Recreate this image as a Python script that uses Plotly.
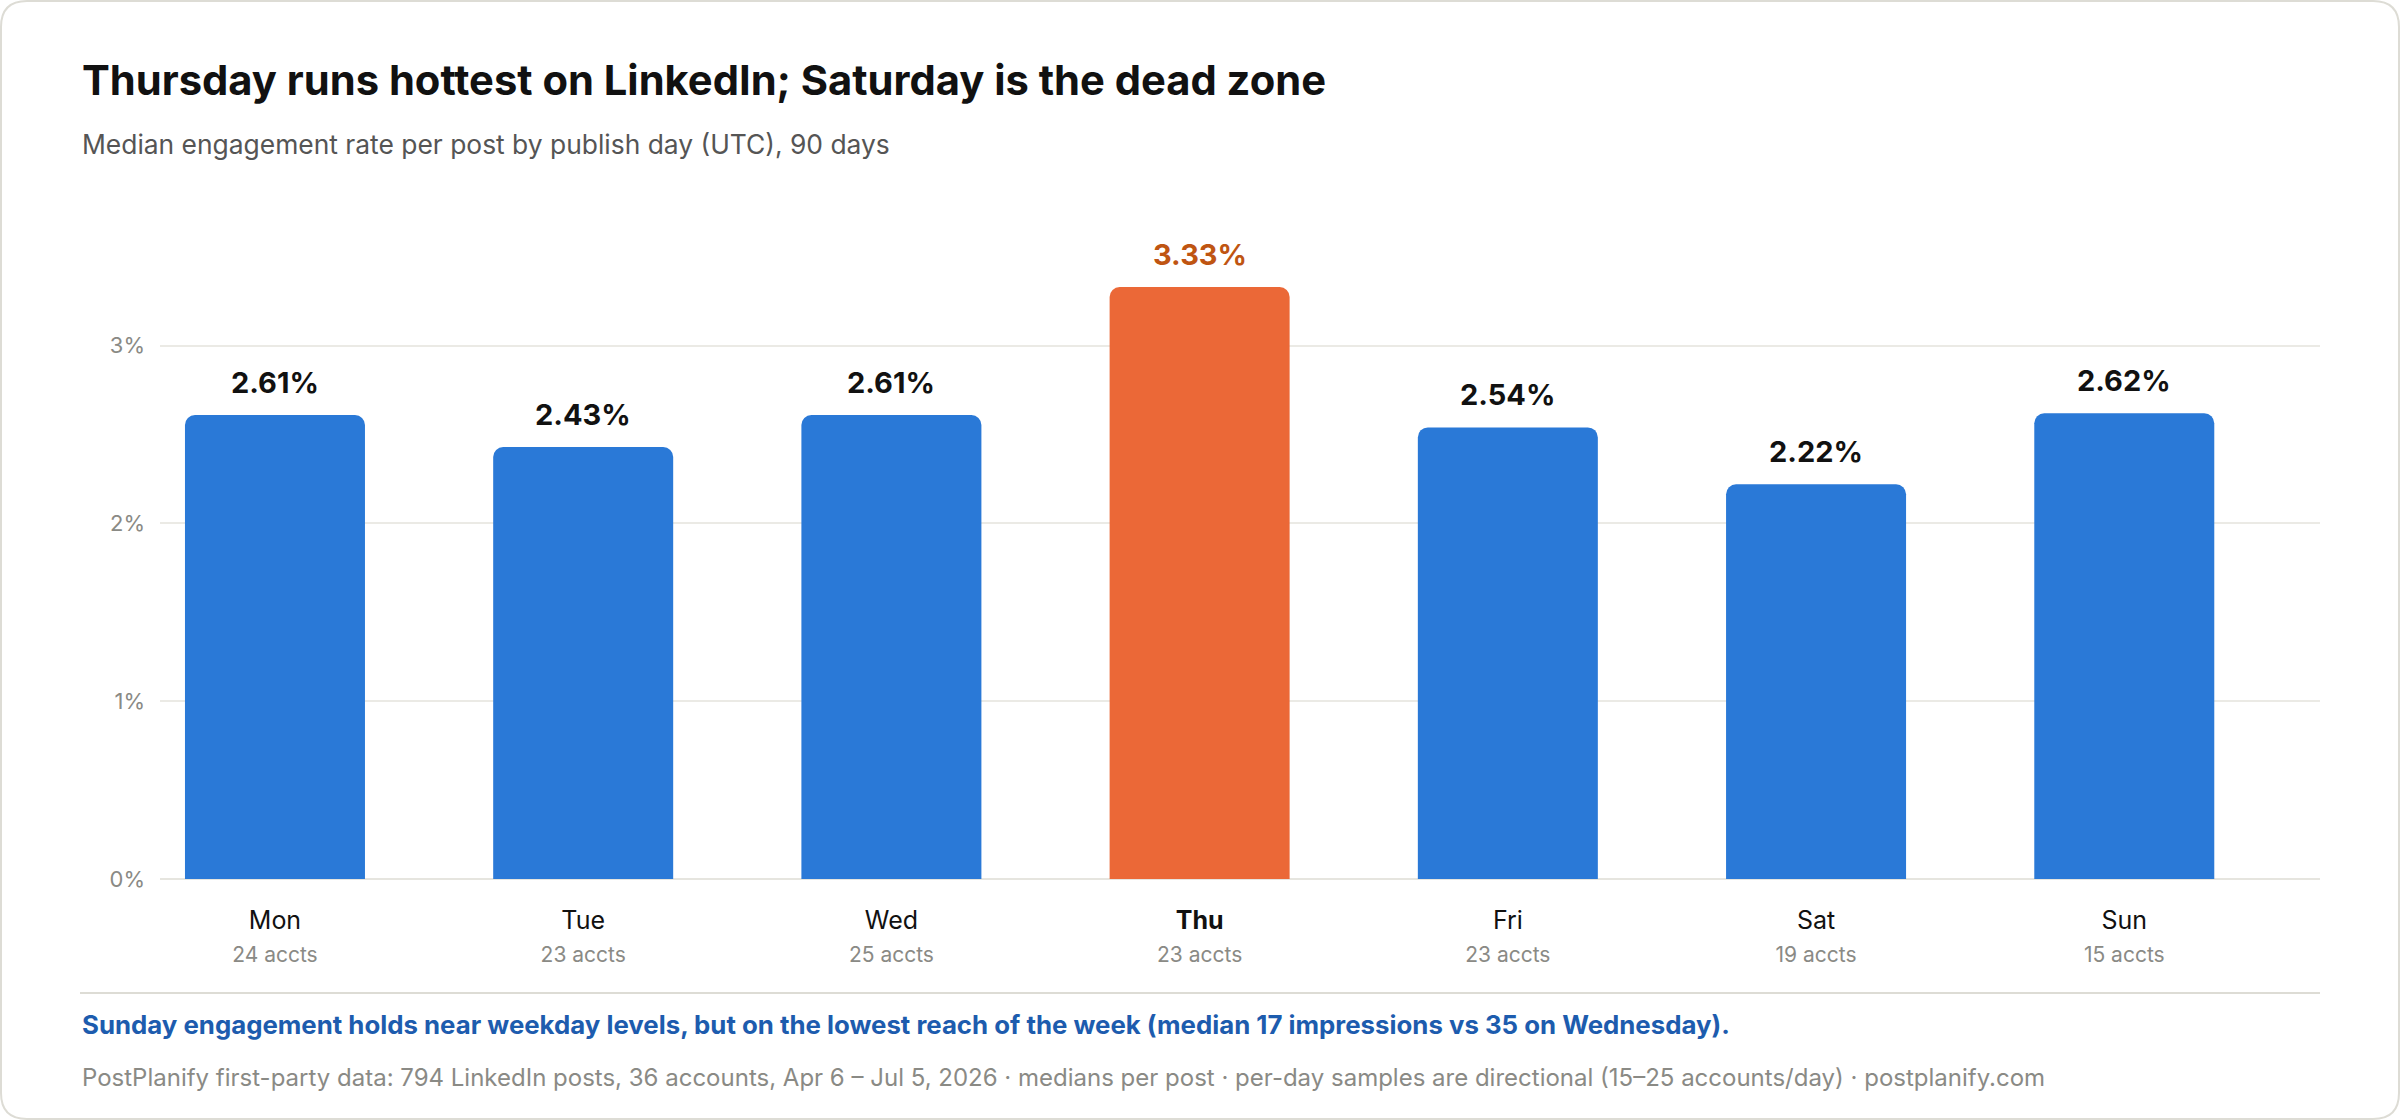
import plotly.graph_objects as go

days = ["Mon", "Tue", "Wed", "Thu", "Fri", "Sat", "Sun"]
engagement = [2.61, 2.43, 2.61, 3.33, 2.54, 2.22, 2.62]
accounts = [24, 23, 25, 23, 23, 19, 15]
highlight_day = "Thu"
y_ticks = [0, 1, 2, 3]

W, H = 2400, 1120
L, R, T, B = 160, 80, 239, 241
PW, PH = W - L - R, H - T - B

def px(x):
    return (x - L) / PW

def py(y):
    return (H - B - y) / PH

FONT = "Inter, 'Noto Sans', 'Liberation Sans', sans-serif"
BLUE = "#2a79d7"
ORANGE = "#eb6837"
ORANGE_TXT = "#bf5512"
GRAY = "#8a8a85"
BORDER = "#dddcd5"

colors = [ORANGE if d == highlight_day else BLUE for d in days]
xs = list(range(len(days)))

ticktext = []
for d, a in zip(days, accounts):
    name = f"<b>{d}</b>" if d == highlight_day else d
    ticktext.append(f"{name}<br><span style='font-size:21px;color:{GRAY}'>{a} accts</span>")

fig = go.Figure()
fig.add_trace(go.Bar(
    x=xs, y=engagement, width=0.584,
    marker=dict(color=colors, cornerradius=10, line=dict(width=0)),
    hoverinfo="skip",
))

for x, d, v in zip(xs, days, engagement):
    fig.add_annotation(
        x=x, y=v, xref="x", yref="y", text=f"<b>{v:.2f}%</b>",
        showarrow=False, yanchor="bottom", yshift=13,
        font=dict(family=FONT, size=29, color=ORANGE_TXT if d == highlight_day else "#111111"),
    )

# Titles
fig.add_annotation(x=px(80), y=py(80), xref="paper", yref="paper", xanchor="left", yanchor="middle",
                   text="<b>Thursday runs hottest on LinkedIn; Saturday is the dead zone</b>",
                   showarrow=False, font=dict(family=FONT, size=41.7, color="#111111"))
fig.add_annotation(x=px(80), y=py(144), xref="paper", yref="paper", xanchor="left", yanchor="middle",
                   text="Median engagement rate per post by publish day (UTC), 90 days",
                   showarrow=False, font=dict(family=FONT, size=26.4, color="#555555"))
# Footer
fig.add_annotation(x=px(80), y=py(1024), xref="paper", yref="paper", xanchor="left", yanchor="middle",
                   text="<b>Sunday engagement holds near weekday levels, but on the lowest reach of the week (median 17 impressions vs 35 on Wednesday).</b>",
                   showarrow=False, font=dict(family=FONT, size=25.8, color="#1d5cae"))
fig.add_annotation(x=px(80), y=py(1077), xref="paper", yref="paper", xanchor="left", yanchor="middle",
                   text="PostPlanify first-party data: 794 LinkedIn posts, 36 accounts, Apr 6 – Jul 5, 2026 · medians per post · per-day samples are directional (15–25 accounts/day) · postplanify.com",
                   showarrow=False, font=dict(family=FONT, size=24, color=GRAY))

# separator
fig.add_shape(type="line", xref="paper", yref="paper", x0=px(80), x1=px(2320), y0=py(993), y1=py(993),
              line=dict(color=BORDER, width=2))

# card border with rounded corners
r = 26
x0, x1, y0, y1 = 1, W - 1, 1, H - 1
def P(x, y):
    return f"{px(x):.6f},{py(y):.6f}"
path = (f"M {P(x0 + r, y0)} L {P(x1 - r, y0)} Q {P(x1, y0)} {P(x1, y0 + r)} "
        f"L {P(x1, y1 - r)} Q {P(x1, y1)} {P(x1 - r, y1)} "
        f"L {P(x0 + r, y1)} Q {P(x0, y1)} {P(x0, y1 - r)} "
        f"L {P(x0, y0 + r)} Q {P(x0, y0)} {P(x0 + r, y0)} Z")
fig.add_shape(type="path", xref="paper", yref="paper", path=path, line=dict(color=BORDER, width=2))

fig.update_layout(
    width=W, height=H,
    margin=dict(l=L, r=R, t=T, b=B, pad=0),
    paper_bgcolor="white", plot_bgcolor="white",
    showlegend=False,
    font=dict(family=FONT),
    bargap=0.4,
)
fig.update_xaxes(
    range=[-0.373, 6.635], tickvals=xs, ticktext=ticktext,
    tickfont=dict(family=FONT, size=25, color="#111111"),
    showgrid=False, zeroline=False, showline=False, ticks="", ticklabelstandoff=24,
    fixedrange=True,
)
fig.update_yaxes(
    range=[0, 3.6], tickvals=y_ticks, ticktext=[f"{t}%" for t in y_ticks],
    tickfont=dict(family=FONT, size=22, color=GRAY),
    showgrid=True, gridcolor="#ebeae5", gridwidth=2,
    zeroline=True, zerolinecolor="#e6e5df", zerolinewidth=2,
    showline=False, ticks="", ticklabelstandoff=14, fixedrange=True,
)

fig.write_html("out.html", config={"displayModeBar": False})
